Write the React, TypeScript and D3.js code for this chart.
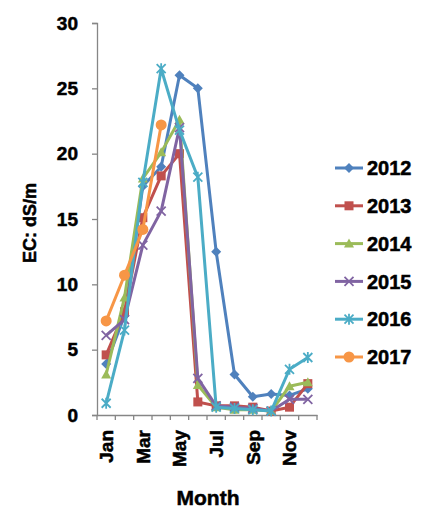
import React, { useEffect, useRef } from "react";
import * as d3 from "d3";

const months = ["Jan", "Feb", "Mar", "Apr", "May", "Jun", "Jul", "Aug", "Sep", "Oct", "Nov", "Dec"];
const yTicks = [0, 5, 10, 15, 20, 25, 30];

const ec2012 = [3.9, 7.6, 17.5, 19.0, 26.0, 25.0, 12.5, 3.1, 1.4, 1.6, 1.5, 2.0];
const ec2013 = [4.6, 7.9, 15.1, 18.3, 20.0, 1.0, 0.7, 0.7, 0.6, 0.3, 0.6, 2.4];
const ec2014 = [3.1, 9.0, 18.1, 20.1, 22.6, 2.3, 0.6, 0.4, 0.4, 0.3, 2.2, 2.5];
const ec2015 = [6.1, 7.3, 13.0, 15.6, 22.0, 2.8, 0.7, 0.6, 0.5, 0.3, 1.2, 1.2];
const ec2016 = [0.9, 6.5, 17.8, 26.5, 21.8, 18.2, 0.6, 0.5, 0.4, 0.3, 3.5, 4.4];
const ec2017 = [7.2, 10.7, 14.2, 22.2];

const series = [
  { name: "2012", values: ec2012, color: "#4F81BD", marker: "diamond" },
  { name: "2013", values: ec2013, color: "#C0504D", marker: "square" },
  { name: "2014", values: ec2014, color: "#9BBB59", marker: "triangle" },
  { name: "2015", values: ec2015, color: "#8064A2", marker: "x" },
  { name: "2016", values: ec2016, color: "#4BACC6", marker: "star" },
  { name: "2017", values: ec2017, color: "#F79646", marker: "circle" },
];

const font = "'Liberation Sans', Arial, sans-serif";

function drawMarker(g: any, type: string, color: string) {
  if (type === "diamond") {
    g.append("path").attr("d", "M0,-5L5,0L0,5L-5,0Z").attr("fill", color);
  } else if (type === "square") {
    g.append("rect").attr("x", -4.5).attr("y", -4.5).attr("width", 9).attr("height", 9).attr("fill", color);
  } else if (type === "triangle") {
    g.append("path").attr("d", "M0,-5L5,4L-5,4Z").attr("fill", color);
  } else if (type === "x") {
    g.append("path").attr("d", "M-4.5,-4.5L4.5,4.5M-4.5,4.5L4.5,-4.5").attr("stroke", color).attr("stroke-width", 1.8);
  } else if (type === "star") {
    g.append("path").attr("d", "M-4.5,-4.5L4.5,4.5M-4.5,4.5L4.5,-4.5M0,-5.5L0,5.5").attr("stroke", color).attr("stroke-width", 1.8);
  } else {
    g.append("circle").attr("r", 5.5).attr("fill", color);
  }
}

function boldText(sel: any, size: number) {
  return sel.attr("font-family", font).attr("font-weight", "bold").attr("font-size", size)
    .attr("fill", "#000").attr("stroke", "#000").attr("stroke-width", 0.5);
}

function Chart() {
  const ref = useRef<SVGSVGElement>(null);

  useEffect(() => {
    const svg = d3.select(ref.current);
    svg.selectAll("*").remove();

    const left = 97, right = 317, top = 23, bottom = 415;
    const x = d3.scaleBand().domain(months).range([left, right]);
    const y = d3.scaleLinear().domain([0, 30]).range([bottom, top]);

    // y axis
    const yAxis = svg.append("g").attr("transform", `translate(${left},0)`)
      .call(d3.axisLeft(y).tickValues(yTicks).tickSize(5).tickPadding(14));
    yAxis.select(".domain").attr("stroke", "#868686").attr("stroke-width", 1.3);
    yAxis.selectAll(".tick line").attr("stroke", "#868686").attr("stroke-width", 1.3);
    boldText(yAxis.selectAll("text"), 19);

    // x axis
    const xAxis = svg.append("g").attr("transform", `translate(0,${bottom})`)
      .call(d3.axisBottom(x).tickSize(0).tickFormat((d: any, i: number) => (i % 2 === 0 ? d : "")));
    xAxis.select(".domain").attr("stroke", "#868686").attr("stroke-width", 1.3);
    boldText(xAxis.selectAll("text"), 19)
      .attr("transform", "rotate(-90)")
      .attr("text-anchor", "end")
      .attr("x", -15)
      .attr("y", 0)
      .attr("dy", "0.36em");
    const bounds = months.map((m) => x(m) as number).concat([right]);
    svg.append("g").selectAll("line").data(bounds).join("line")
      .attr("x1", (d) => d).attr("x2", (d) => d)
      .attr("y1", bottom).attr("y2", bottom + 5)
      .attr("stroke", "#868686").attr("stroke-width", 1.3);

    const cx = (i: number) => (x(months[i]) as number) + x.bandwidth() / 2;
    const line = d3.line<number>().x((d, i) => cx(i)).y((d) => y(d));

    series.forEach((s) => {
      const g = svg.append("g");
      g.append("path").datum(s.values).attr("d", line)
        .attr("fill", "none").attr("stroke", s.color).attr("stroke-width", 3)
        .attr("stroke-linejoin", "round");
      s.values.forEach((v, i) => {
        drawMarker(g.append("g").attr("transform", `translate(${cx(i)},${y(v)})`), s.marker, s.color);
      });
    });

    // axis titles
    boldText(svg.append("text"), 18)
      .attr("transform", `translate(36,${(top + bottom) / 2 + 4}) rotate(-90)`)
      .attr("text-anchor", "middle")
      .text("EC: dS/m");
    boldText(svg.append("text"), 21)
      .attr("x", 208).attr("y", 505)
      .attr("text-anchor", "middle")
      .text("Month");

    // legend
    const legend = svg.append("g").attr("transform", "translate(335,168)");
    series.forEach((s, i) => {
      const row = legend.append("g").attr("transform", `translate(0,${i * 37.8})`);
      row.append("line").attr("x1", 0).attr("x2", 28).attr("y1", 0).attr("y2", 0)
        .attr("stroke", s.color).attr("stroke-width", 3);
      drawMarker(row.append("g").attr("transform", "translate(14,0)"), s.marker, s.color);
      boldText(row.append("text"), 20).attr("x", 32).attr("y", 0).attr("dy", "0.36em")
        .text(s.name);
    });
  }, []);

  return <svg ref={ref} width={435} height={508} style={{ display: "block" }} />;
}

export default function App() {
  return (
    <div style={{ position: "absolute", left: 0, top: 0 }}>
      <Chart />
    </div>
  );
}
